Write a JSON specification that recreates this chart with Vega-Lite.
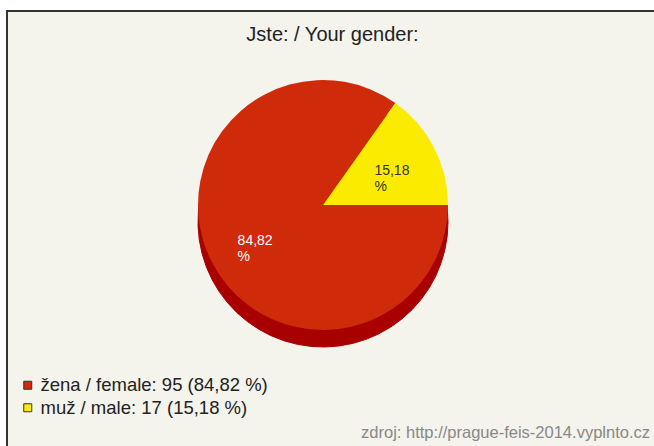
{
  "$schema": "https://vega.github.io/schema/vega-lite/v6.json",
  "autosize": {"type": "none"},
  "padding": {"left": 7, "top": 11, "right": -4, "bottom": -4},
  "width": 651,
  "height": 439,
  "background": "white",
  "view": {"fill": "#f4f3ec", "stroke": "#333333", "strokeWidth": 2},
  "title": {"text": "Jste: / Your gender:", "orient": "top", "anchor": "middle", "offset": -34, "font": "Liberation Sans", "fontSize": 20, "fontWeight": "normal", "color": "#222222"},
  "data": {"values": [
    {"gender": "žena / female", "count": 95, "legend": "žena / female: 95 (84,82 %)", "label": "84,82\n%"},
    {"gender": "muž / male", "count": 17, "legend": "muž / male: 17 (15,18 %)", "label": "15,18\n%"}
  ]},
  "layer": [
    {
      "mark": {"type": "arc", "radius": 125, "xOffset": -9.5, "yOffset": -8.5, "color": "#a80000", "stroke": "#a80000", "strokeWidth": 1},
      "encoding": {
        "theta": {"field": "count", "type": "quantitative", "stack": true, "scale": {"domain": [0, 112], "range": [1.5708, 7.854]}},
        "order": {"field": "count", "sort": "descending"}
      }
    },
    {
      "mark": {"type": "arc", "radius": 125, "xOffset": -9.5, "yOffset": -25.5},
      "encoding": {
        "theta": {"field": "count", "type": "quantitative", "stack": true, "scale": {"domain": [0, 112], "range": [1.5708, 7.854]}},
        "order": {"field": "count", "sort": "descending"},
        "color": {
          "field": "legend", "type": "nominal",
          "scale": {"domain": ["žena / female: 95 (84,82 %)", "muž / male: 17 (15,18 %)"], "range": ["#cf2a0a", "#fbeb00"]},
          "legend": {"orient": "none", "legendX": 11.5, "legendY": 365, "title": null, "symbolType": "square", "symbolSize": 64, "symbolStrokeColor": "#333333", "symbolStrokeWidth": 1, "symbolOpacity": 1, "labelFont": "Liberation Sans", "labelFontSize": 18.5, "labelColor": "#222222", "rowPadding": 3.5, "labelOffset": 3.5, "labelLimit": 0}
        }
      }
    },
    {
      "mark": {"type": "text", "radius": 77, "xOffset": -9.5, "yOffset": -25.5, "dx": -17, "dy": 1, "lineBreak": "\n", "font": "Liberation Sans", "fontSize": 14, "align": "left", "baseline": "middle", "lineHeight": 16},
      "encoding": {
        "theta": {"field": "count", "type": "quantitative", "stack": true, "scale": {"domain": [0, 112], "range": [1.5708, 7.854]}},
        "order": {"field": "count", "sort": "descending"},
        "text": {"field": "label"},
        "fill": {"condition": {"test": "datum.count < 50", "value": "#333333"}, "value": "#ffffff"}
      }
    },
    {
      "data": {"values": [{"source": "zdroj: http://prague-feis-2014.vyplnto.cz"}]},
      "mark": {"type": "text", "x": {"expr": "width - 8"}, "y": {"expr": "height - 12"}, "align": "right", "baseline": "alphabetic", "font": "Liberation Sans", "fontSize": 16.5, "color": "#888888"},
      "encoding": {"text": {"field": "source"}}
    }
  ]
}
